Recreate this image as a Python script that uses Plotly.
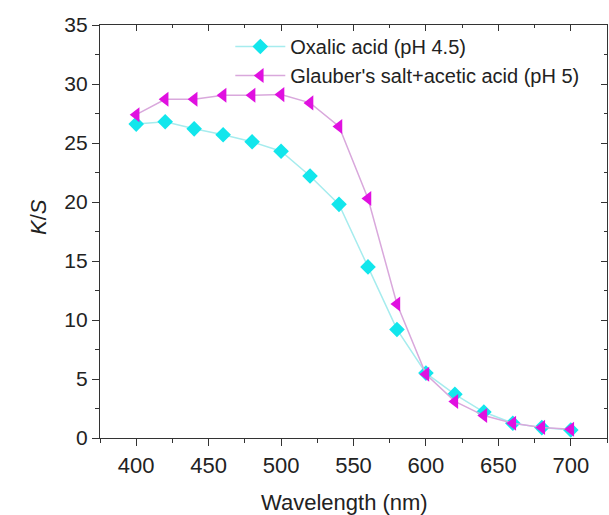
import plotly.graph_objects as go

# K/S spectra of dyed samples
wavelength = [400, 420, 440, 460, 480, 500, 520, 540, 560, 580, 600, 620, 640, 660, 680, 700]
oxalic_ks = [26.6, 26.8, 26.2, 25.7, 25.1, 24.3, 22.2, 19.8, 14.5, 9.2, 5.5, 3.7, 2.2, 1.25, 0.88, 0.68]
glauber_ks = [27.4, 28.7, 28.7, 29.05, 29.05, 29.1, 28.4, 26.4, 20.3, 11.35, 5.4, 3.1, 1.9, 1.25, 0.9, 0.75]

x_range = [375, 725]
y_range = [0, 35]
x_ticks = [400, 450, 500, 550, 600, 650, 700]

font_family = "Liberation Sans, Arial, sans-serif"

fig = go.Figure()

fig.add_trace(go.Scatter(
    x=wavelength, y=oxalic_ks, mode="lines+markers",
    name="Oxalic acid (pH 4.5)",
    line=dict(color="#a6ecee", width=1.5),
    marker=dict(symbol="diamond", size=12, color="#12e6ec"),
))
fig.add_trace(go.Scatter(
    x=wavelength, y=glauber_ks, mode="lines+markers",
    name="Glauber's salt+acetic acid (pH 5)",
    line=dict(color="#d9a8dc", width=1.5),
    marker=dict(symbol="triangle-left", size=13, color="#e010e0"),
))

# invisible trace to carry the mirrored top/right axes
fig.add_trace(go.Scatter(
    x=[x_range[0]], y=[y_range[0]], xaxis="x2", yaxis="y2",
    mode="markers", marker=dict(opacity=0), showlegend=False, hoverinfo="skip",
))

axis_common = dict(
    showgrid=False, zeroline=False, showline=True, linecolor="#333333", linewidth=1.2,
    tickcolor="#333333", tickwidth=1.2, automargin=False,
)
minor_style = dict(tickcolor="#333333", tickwidth=1.2)

fig.update_layout(
    width=609, height=515,
    margin=dict(l=100, r=2, t=25, b=77),
    plot_bgcolor="white", paper_bgcolor="white",
    font=dict(family=font_family, color="#222222"),
    xaxis=dict(
        range=x_range, tickvals=x_ticks,
        ticks="outside", ticklen=7,
        tickfont=dict(family=font_family, size=22, color="#222222"),
        minor=dict(ticks="outside", ticklen=4, dtick=25, tick0=375, **minor_style),
        **axis_common,
    ),
    yaxis=dict(
        range=y_range, dtick=5,
        ticks="outside", ticklen=7,
        tickfont=dict(family=font_family, size=21, color="#222222"),
        minor=dict(ticks="outside", ticklen=4, dtick=2.5, **minor_style),
        **axis_common,
    ),
    xaxis2=dict(
        range=x_range, overlaying="x", side="top", anchor="y2",
        tickvals=x_ticks, showticklabels=False,
        ticks="inside", ticklen=6,
        minor=dict(ticks="inside", ticklen=3, dtick=25, tick0=375, **minor_style),
        **axis_common,
    ),
    yaxis2=dict(
        range=y_range, overlaying="y", side="right", anchor="x2",
        dtick=5, showticklabels=False,
        ticks="inside", ticklen=6,
        minor=dict(ticks="inside", ticklen=3, dtick=2.5, **minor_style),
        **axis_common,
    ),
    legend=dict(
        x=0.257, y=0.995, xanchor="left", yanchor="top",
        bgcolor="rgba(0,0,0,0)", borderwidth=0,
        font=dict(family=font_family, size=20, color="#222222"),
        tracegroupgap=0, itemwidth=50,
    ),
    showlegend=True,
    annotations=[
        dict(text="Wavelength (nm)", xref="paper", yref="paper", x=0.482, y=0,
             xanchor="center", yanchor="top", yshift=-50, showarrow=False,
             font=dict(family=font_family, size=22, color="#222222")),
        dict(text="<i>K</i>/<i>S</i>", xref="paper", yref="paper", x=0, y=0.535,
             xanchor="center", yanchor="middle", xshift=-62, textangle=-90, showarrow=False,
             font=dict(family=font_family, size=22, color="#222222")),
    ],
)

fig.write_html("out.html")
